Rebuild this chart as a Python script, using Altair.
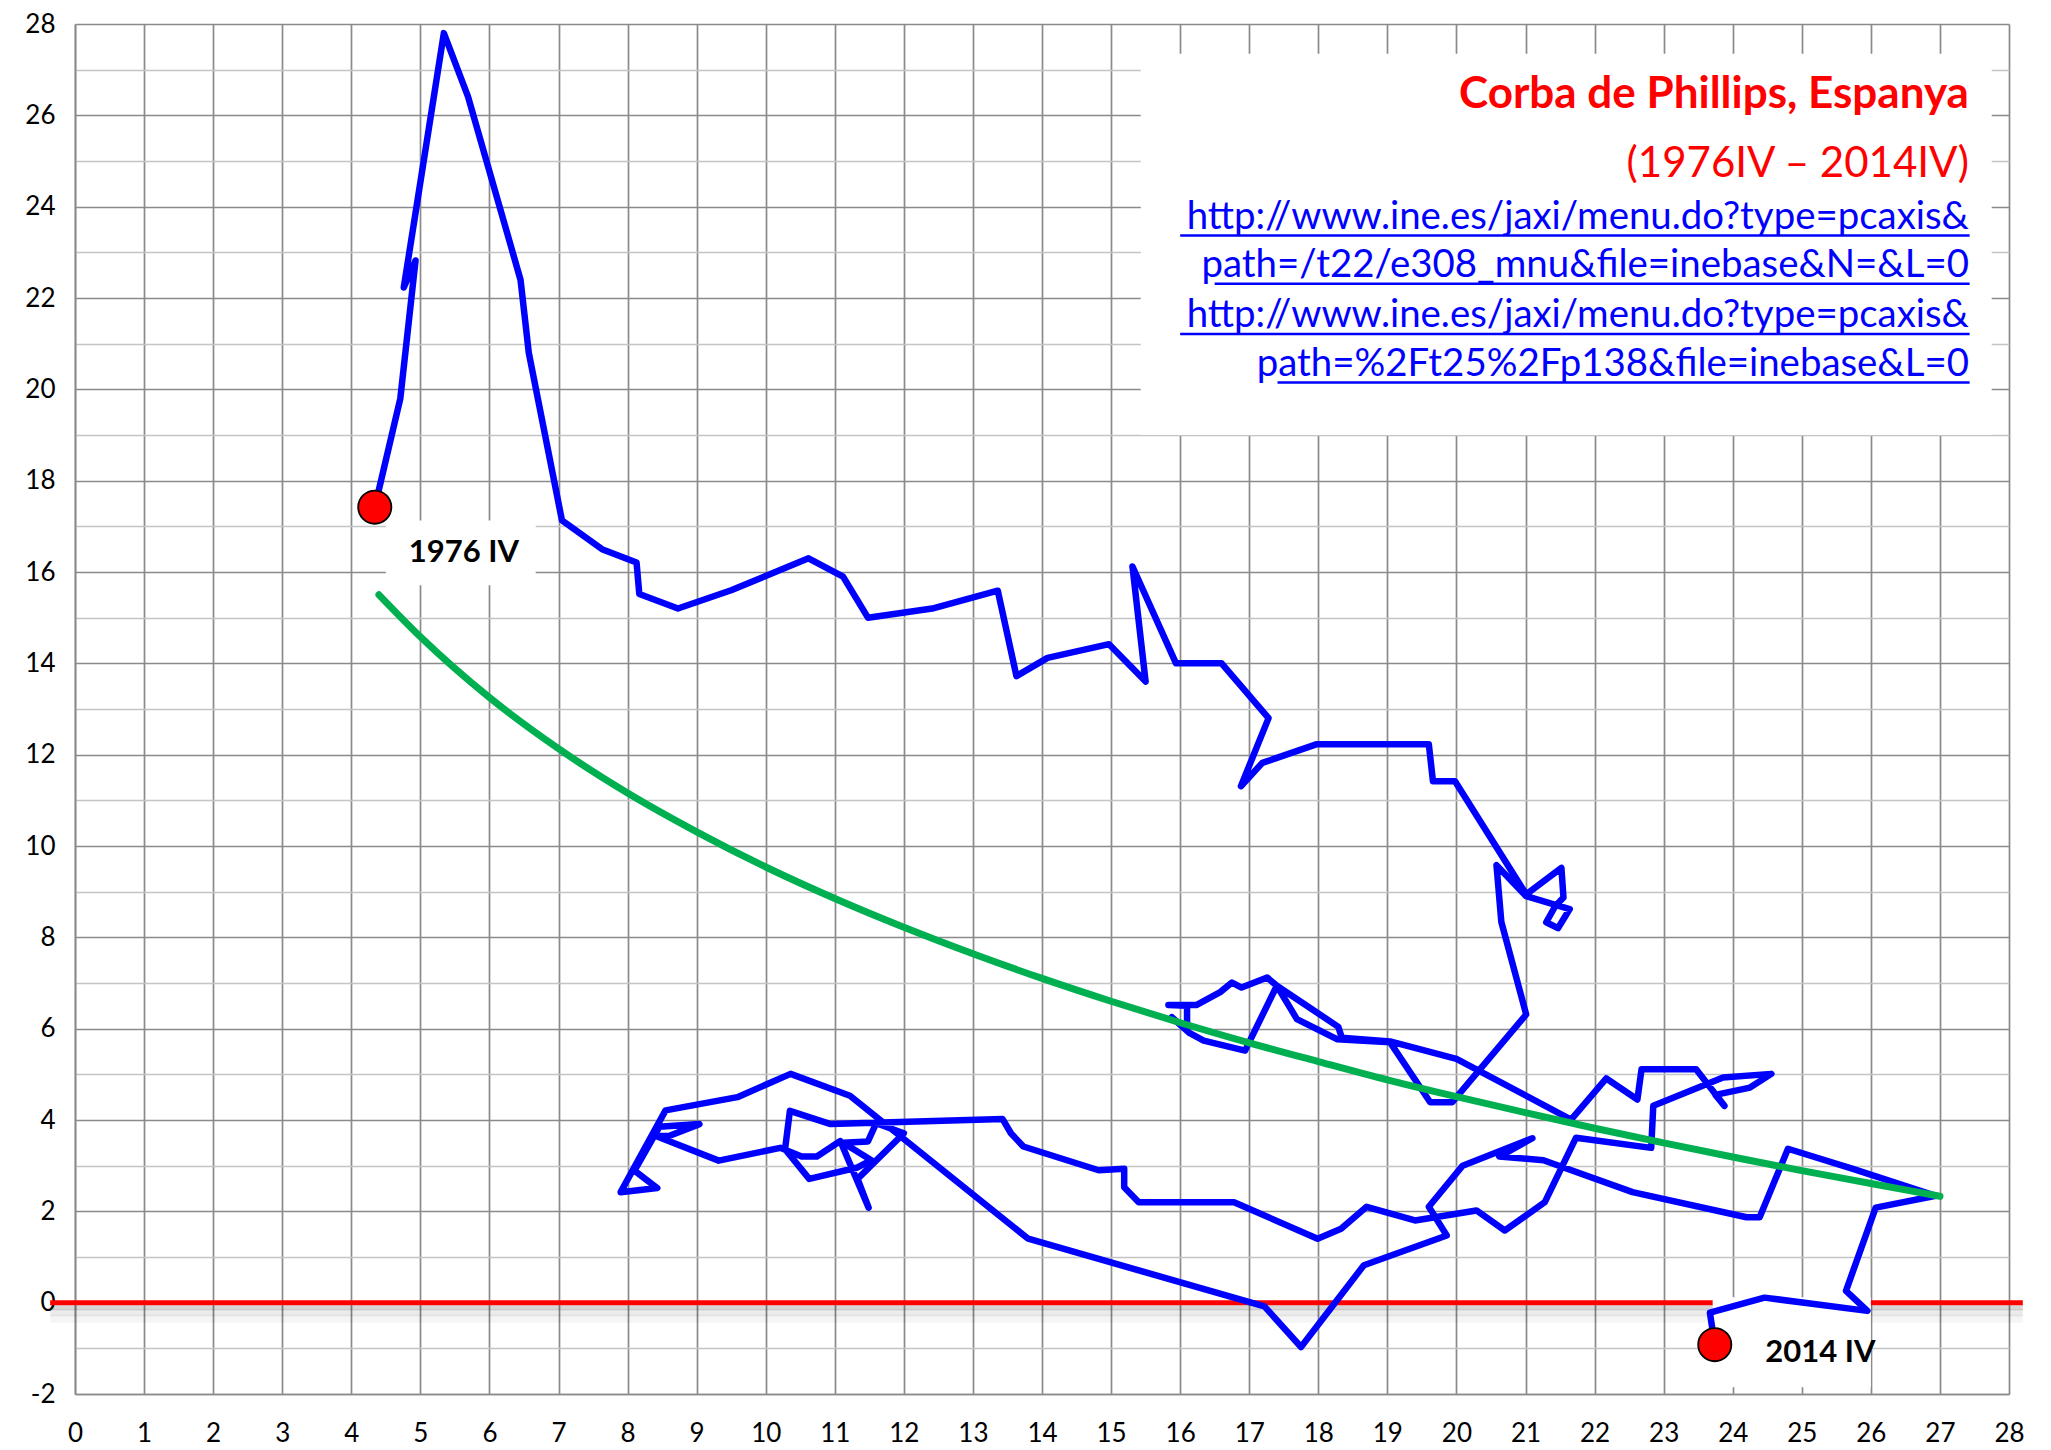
import altair as alt
import pandas as pd

# ---------------- data ----------------
# Blue path: unemployment rate (%) on x, CPI inflation (%) on y, 1976 IV -> 2014 IV
unemployment = [
    4.34, 4.71, 4.93, 4.76, 5.34, 5.69, 6.45, 6.57, 7.05, 7.63,
    8.13, 8.17, 8.73, 9.50, 10.62, 11.12, 11.48, 12.41, 13.36, 13.63,
    14.08, 14.97, 15.50, 15.31, 15.94, 16.60, 17.28, 16.88, 17.19, 17.98,
    19.60, 19.66, 19.98, 21.01, 21.52, 21.55, 21.43, 21.30, 21.47, 21.64,
    21.01, 20.58, 20.65, 21.01,
    19.94, 19.62, 19.04, 18.27, 17.69, 17.40, 17.26, 16.89, 16.75, 16.58,
    16.24, 15.83, 16.10, 16.10, 15.88, 16.14, 16.34, 16.94, 17.40, 18.29,
    18.34, 19.04, 20.00,
    21.66, 22.17, 22.62, 22.68, 23.47, 23.88, 23.75, 24.25, 24.56, 23.86,
    22.85, 22.82, 21.73, 21.28, 20.70, 20.29, 19.40, 18.70, 18.33, 17.99,
    16.78, 15.40, 15.19, 15.19, 14.82, 13.73, 13.55, 13.43,
    10.94, 10.35, 10.28, 10.63, 11.33, 11.53, 11.12, 11.48, 11.60, 12.00,
    11.33, 11.49, 11.08, 10.74, 10.52, 10.21, 9.32, 8.41, 8.60, 9.04,
    8.46, 8.10, 8.43, 7.90, 8.55, 9.59, 10.36, 11.22, 13.80,
    17.22, 17.75, 18.66, 19.86, 19.60, 20.09, 21.10, 20.62, 21.26, 22.55,
    24.20, 24.39, 24.80, 25.74, 26.94, 26.07, 25.64, 25.95, 24.46, 23.67,
    23.74,
]
inflation = [
    17.42, 19.80, 22.82, 22.23, 27.80, 26.41, 22.40, 20.80, 17.13, 16.50,
    16.21, 15.52, 15.20, 15.60, 16.30, 15.90, 15.00, 15.20, 15.59, 13.72,
    14.12, 14.42, 13.60, 16.12, 14.00, 14.00, 12.80, 11.31, 11.82, 12.23,
    12.23, 11.42, 11.42, 8.94, 9.52, 8.87, 8.68, 8.33, 8.20, 8.62,
    8.90, 9.58, 8.34, 6.31,
    4.39, 4.39, 5.70, 5.77, 6.21, 6.94, 7.12, 6.90, 7.01, 6.80,
    6.52, 6.52, 6.50, 5.95, 6.25, 5.90, 5.74, 5.52, 6.94, 6.04,
    5.80, 5.72, 5.34,
    4.01, 4.91, 4.45, 5.11, 5.11, 4.31, 4.55, 4.71, 5.01, 4.93,
    4.31, 3.39, 3.61, 2.20, 1.58, 2.02, 1.80, 2.10, 1.62, 1.40,
    2.20, 2.20, 2.53, 2.93, 2.90, 3.42, 3.71, 4.02,
    3.91, 4.20, 3.36, 2.71, 2.96, 3.12, 3.50, 3.53, 3.93, 3.71,
    2.71, 2.08, 3.54, 3.20, 3.20, 3.39, 3.11, 3.65, 3.65, 3.91,
    3.85, 2.89, 2.51, 2.42, 4.21, 4.50, 5.01, 4.53, 1.40,
    -0.08, -0.97, 0.82, 1.47, 2.10, 3.00, 3.60, 3.20, 3.12, 2.42,
    1.87, 1.87, 3.37, 2.93, 2.34, 2.08, 0.26, -0.18, 0.11, -0.22,
    -0.92,
]

# Green trend curve
trend_x = [4.4, 5, 6, 7, 8, 9, 10, 11, 12, 13, 14, 15, 16, 17, 18, 19,
           20, 21, 22, 23, 24, 25, 26, 27]
trend_y = [15.50, 14.58, 13.25, 12.13, 11.16, 10.31, 9.54, 8.85, 8.22, 7.64,
           7.10, 6.60, 6.13, 5.69, 5.28, 4.88, 4.51, 4.16, 3.82, 3.50,
           3.19, 2.89, 2.61, 2.33]

x_tick_values = list(range(0, 29))
y_tick_values = list(range(-2, 29))

end_labels = ["1976 IV", "2014 IV"]
title_lines = ["Corba de Phillips, Espanya", "(1976IV \u2013 2014IV)"]
source_lines = [
    "http://www.ine.es/jaxi/menu.do?type=pcaxis&",
    "path=/t22/e308_mnu&file=inebase&N=&L=0",
    "http://www.ine.es/jaxi/menu.do?type=pcaxis&",
    "path=%2Ft25%2Fp138&file=inebase&L=0",
]

# ---------------- annotation layout (data coordinates) ----------------
label_x = [5.63, 25.27]
label_y = [16.42, -1.11]
title_y = [26.15, 24.64]
source_y = [23.52, 22.45, 21.36, 20.30]
underline_x = [16.0, 16.5, 16.0, 17.41]
underline_y = [23.37, 22.31, 21.21, 20.15]
text_right = 27.42
boxes = pd.DataFrame({
    "x": [15.43, 4.50, 23.71],
    "x2": [27.75, 6.67, 26.00],
    "y": [19.00, 15.71, -1.85],
    "y2": [27.35, 17.13, 0.12],
})

# ---------------- tables ----------------
path_df = pd.DataFrame({"u": unemployment, "p": inflation,
                        "order": list(range(len(unemployment)))})
trend_df = pd.DataFrame({"u": trend_x, "p": trend_y})
ends_df = pd.DataFrame({"u": [unemployment[0], unemployment[-1]],
                        "p": [inflation[0], inflation[-1]]})
labels_df = pd.DataFrame({"u": label_x, "p": label_y, "t": end_labels})
titles_df = pd.DataFrame({"u": [text_right] * 2, "p": title_y, "t": title_lines})
source_df = pd.DataFrame({"u": [text_right] * 4, "p": source_y, "t": source_lines})
under_df = pd.DataFrame({"u": underline_x, "u2": [text_right + 0.01] * 4, "p": underline_y})
zero_df = pd.DataFrame({"u": [-0.36], "u2": [28.2], "p": [0.0]})

# ---------------- scales / axes ----------------
GRID_DARK = "#8a8a8a"
GRID_LIGHT = "#c4c4c4"
XS = alt.Scale(domain=[0, 28], nice=False, zero=False)
YS = alt.Scale(domain=[-2, 28], nice=False, zero=False)

x_axis = alt.Axis(
    values=x_tick_values, title=None, grid=True, gridColor=GRID_DARK, gridWidth=1.7,
    domain=True, domainColor=GRID_DARK, domainWidth=1.7, ticks=False,
    labelFont="Lato", labelFontSize=26, labelColor="#000000", labelPadding=26,
    labelAngle=0, labelFlush=False, labelOverlap=False,
)
y_axis = alt.Axis(
    values=y_tick_values, title=None, grid=True,
    gridColor={"condition": {"test": "datum.value % 2 === 0", "value": GRID_DARK},
               "value": GRID_LIGHT},
    gridWidth=1.7, domain=True, domainColor=GRID_DARK, domainWidth=1.7, ticks=False,
    labelFont="Lato", labelFontSize=26, labelColor="#000000", labelPadding=20,
    labelExpr="datum.value % 2 === 0 ? '' + datum.value : ''",
    labelFlush=False, labelOverlap=False,
)


def X(f):
    return alt.X(f, type="quantitative", scale=XS, axis=x_axis)


def Y(f):
    return alt.Y(f, type="quantitative", scale=YS, axis=y_axis)


# ---------------- layers ----------------
shadow1 = alt.Chart(zero_df).mark_rule(color="#000000", opacity=0.16, strokeWidth=5, yOffset=5).encode(
    x=X("u"), x2="u2", y=Y("p"))
shadow2 = alt.Chart(zero_df).mark_rule(color="#000000", opacity=0.08, strokeWidth=7, yOffset=10).encode(
    x=X("u"), x2="u2", y=Y("p"))
shadow3 = alt.Chart(zero_df).mark_rule(color="#000000", opacity=0.04, strokeWidth=8, yOffset=16).encode(
    x=X("u"), x2="u2", y=Y("p"))
zero_line = alt.Chart(zero_df).mark_rule(color="#FF0000", strokeWidth=5).encode(
    x=X("u"), x2="u2", y=Y("p"))

white_boxes = alt.Chart(boxes).mark_rect(color="#FFFFFF", opacity=1).encode(
    x=X("x"), x2="x2", y=Y("y"), y2="y2")

blue = alt.Chart(path_df).mark_line(
    color="#0000FF", strokeWidth=6.5, strokeJoin="round", strokeCap="round").encode(
    x=X("u"), y=Y("p"), order="order:Q")

green = alt.Chart(trend_df).mark_line(
    color="#00B050", strokeWidth=7, interpolate="monotone", strokeCap="round").encode(
    x=X("u"), y=Y("p"))

dots = alt.Chart(ends_df).mark_circle(
    size=1100, color="#FF0000", opacity=1, stroke="#000000", strokeWidth=1.8).encode(
    x=X("u"), y=Y("p"))

end_text = alt.Chart(labels_df).mark_text(
    font="Lato", fontSize=31, fontWeight="bold", color="#000000",
    align="center", baseline="middle").encode(x=X("u"), y=Y("p"), text="t:N")

title_main = alt.Chart(titles_df.iloc[[0]]).mark_text(
    font="Lato", fontSize=44, fontWeight="bold", color="#FF0000",
    align="right", baseline="alphabetic").encode(x=X("u"), y=Y("p"), text="t:N")
title_sub = alt.Chart(titles_df.iloc[[1]]).mark_text(
    font="Lato", fontSize=42, color="#FF0000",
    align="right", baseline="alphabetic").encode(x=X("u"), y=Y("p"), text="t:N")
sources = alt.Chart(source_df).mark_text(
    font="Lato", fontSize=38.4, color="#0000FF",
    align="right", baseline="alphabetic").encode(x=X("u"), y=Y("p"), text="t:N")
underlines = alt.Chart(under_df).mark_rule(color="#0000FF", strokeWidth=2.5).encode(
    x=X("u"), x2="u2", y=Y("p"))

chart = alt.layer(
    shadow3, shadow2, shadow1, zero_line, white_boxes, blue, green,
    dots, end_text, title_main, title_sub, sources, underlines,
).properties(
    width=1934, height=1370,
    autosize=alt.AutoSizeParams(type="none"),
    padding={"left": 67, "top": 16, "right": 30, "bottom": 56},
    background="#FFFFFF",
).configure_view(stroke=None)

chart.save("out.html", embed_options={"renderer": "svg", "actions": False})
